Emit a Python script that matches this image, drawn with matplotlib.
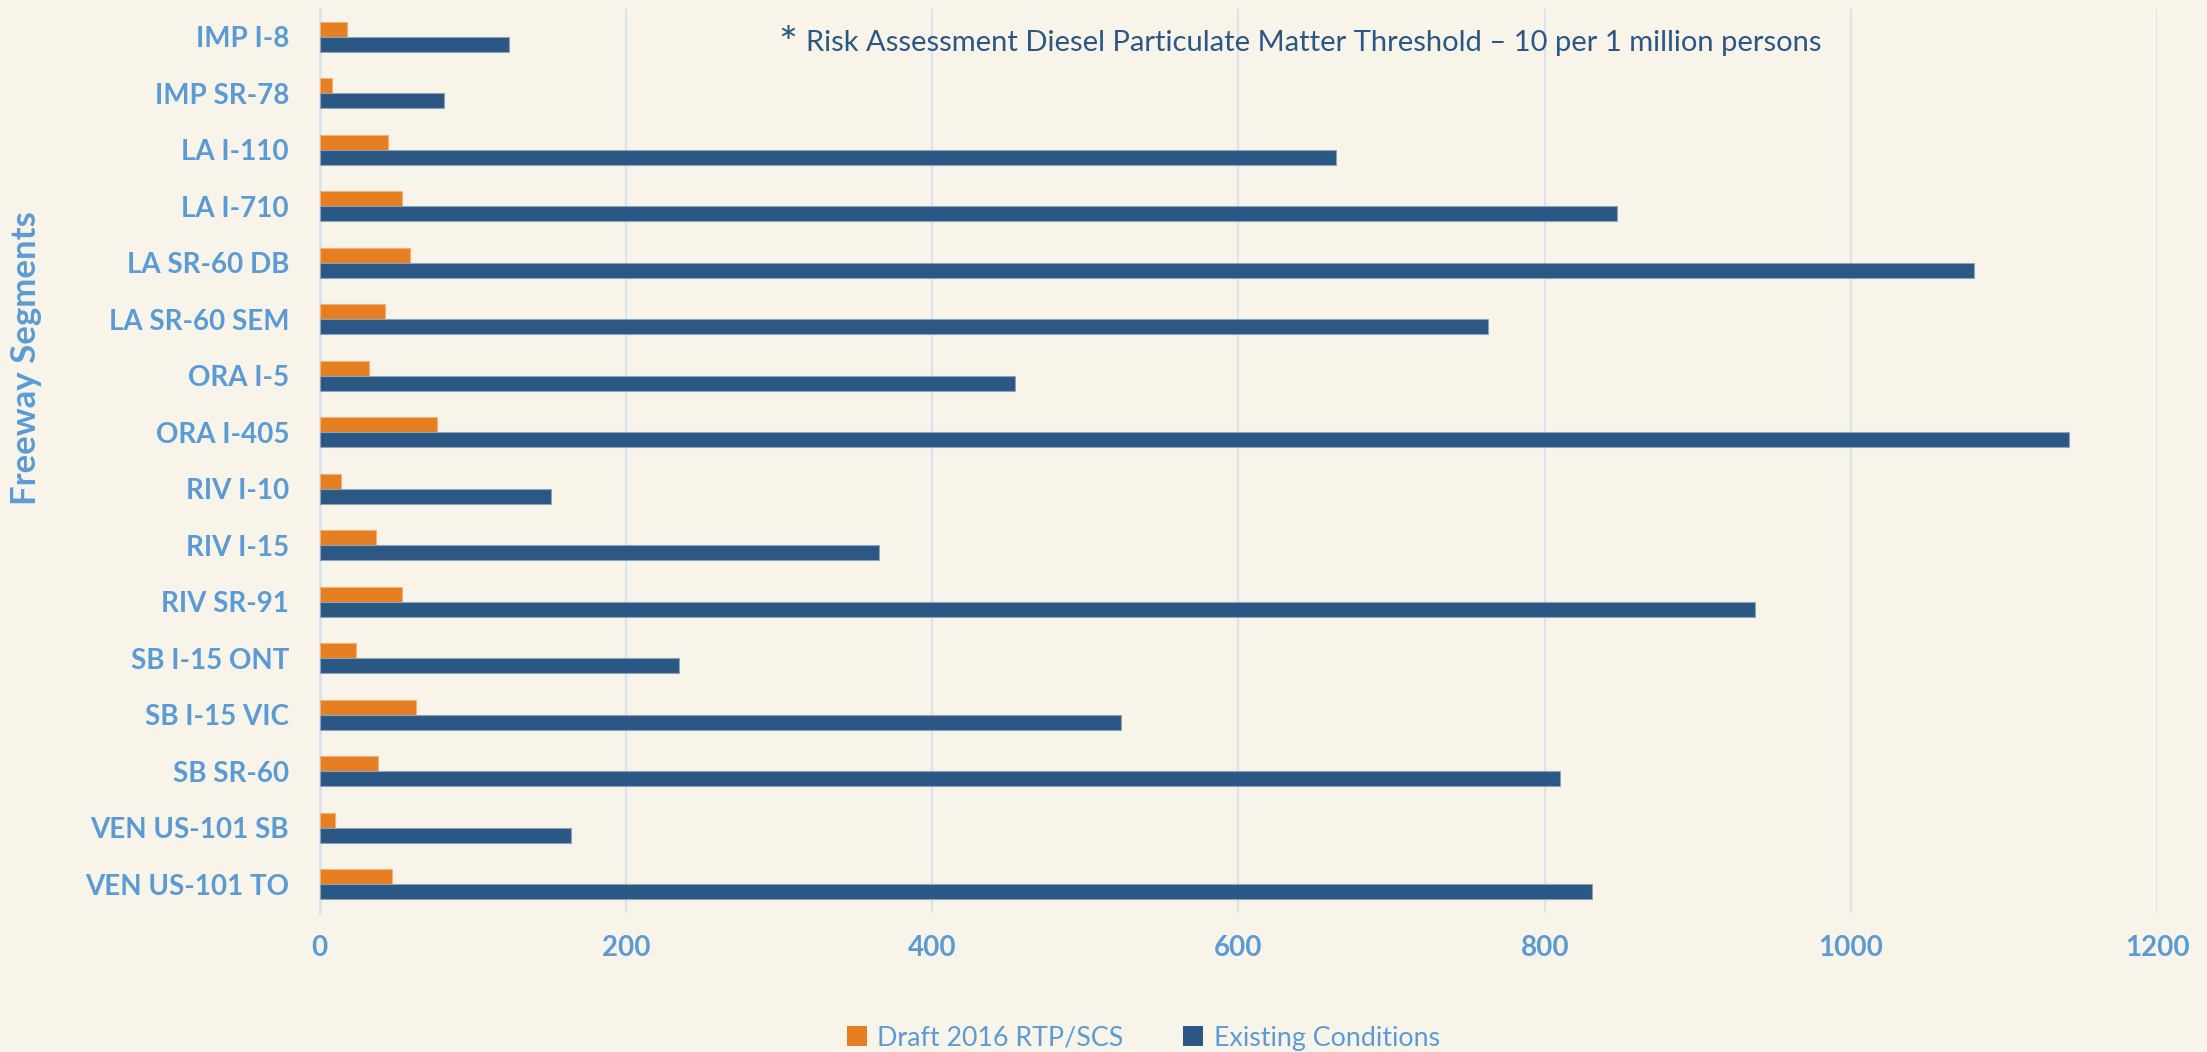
import matplotlib
matplotlib.use("Agg")
import matplotlib.pyplot as plt
import numpy as np
from matplotlib.patches import Patch

# freeway segments, top to bottom
segments = ["IMP I-8", "IMP SR-78", "LA I-110", "LA I-710", "LA SR-60 DB",
            "LA SR-60 SEM", "ORA I-5", "ORA I-405", "RIV I-10", "RIV I-15",
            "RIV SR-91", "SB I-15 ONT", "SB I-15 VIC", "SB SR-60",
            "VEN US-101 SB", "VEN US-101 TO"]
draft_2016 = [18, 8, 45, 54, 59, 43, 32, 77, 14, 37, 54, 24, 63, 38, 10, 47]
existing = [124, 81, 664, 847, 1080, 763, 454, 1142, 151, 365, 937, 235,
            523, 810, 164, 831]
x_ticks = [0, 200, 400, 600, 800, 1000, 1200]

bg = "#F8F4EA"
orange = "#E67E22"
navy = "#2A5783"
label_blue = "#5B9BD5"
grid_blue = "#D8E4EF"

plt.rcParams["font.family"] = ["Lato", "DejaVu Sans"]

fig = plt.figure(figsize=(22.07, 10.52), dpi=100, facecolor=bg)
ax = fig.add_axes([0.1448, 0.1326, 0.8327, 0.8591], facecolor=bg)

y = np.arange(len(segments))
h = 0.265
ax.barh(y - h / 2, draft_2016, height=h, color=orange, edgecolor="#F0B27A",
        linewidth=0.8, label="Draft 2016 RTP/SCS", zorder=3)
ax.barh(y + h / 2, existing, height=h, color=navy, edgecolor="#8FA3B8",
        linewidth=0.8, label="Existing Conditions", zorder=3)

ax.set_xlim(0, 1200)
ax.set_ylim(len(segments) - 0.5, -0.5)
ax.set_xticks(x_ticks)
ax.set_yticks(y)
ax.set_yticklabels(segments)
ax.xaxis.grid(True, color=grid_blue, linewidth=1.5, zorder=0)
ax.set_axisbelow(True)
for s in ["top", "right", "bottom"]:
    ax.spines[s].set_visible(False)
ax.spines["left"].set_color(grid_blue)
ax.spines["left"].set_linewidth(2)
ax.tick_params(axis="both", length=0, labelsize=20, labelcolor=label_blue)
ax.tick_params(axis="x", pad=16)
ax.tick_params(axis="y", pad=22)
for t in ax.get_xticklabels() + ax.get_yticklabels():
    t.set_fontweight("bold")

fig.text(0.012, 0.66, "Freeway Segments", rotation=90, ha="center",
         va="center", fontsize=25, fontweight="bold", color=label_blue)

fig.text(0.3525, 0.957, "*", fontsize=32, color=navy, ha="left", va="center")
fig.text(0.365, 0.959, "Risk Assessment Diesel Particulate Matter Threshold \u2013 10 per 1 million persons",
         fontsize=21, color=navy, ha="left", va="center")

handles = [Patch(facecolor=orange, label="Draft 2016 RTP/SCS"),
           Patch(facecolor=navy, label="Existing Conditions")]
fig.legend(handles=handles, loc="center", bbox_to_anchor=(0.518, 0.0133),
           ncol=2, frameon=False, fontsize=19.3, labelcolor=label_blue,
           handlelength=0.75, handleheight=0.75, handletextpad=0.4,
           columnspacing=2.2)

fig.savefig("out.png", dpi=100, facecolor=bg)
